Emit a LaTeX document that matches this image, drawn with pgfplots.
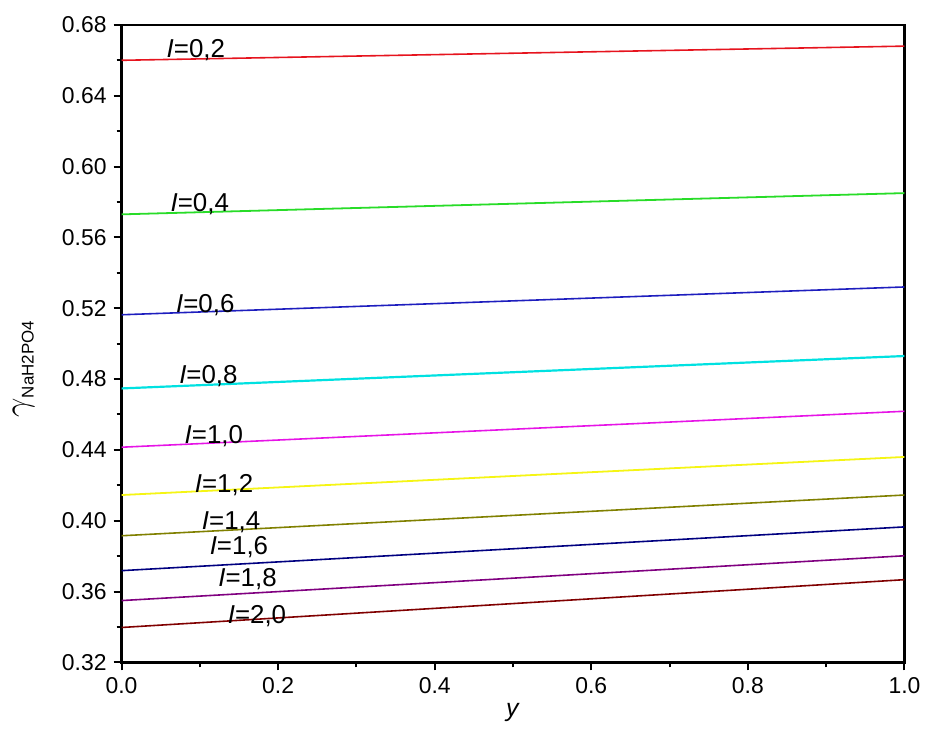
\documentclass[border=0pt]{standalone}
\usepackage{fontspec}
\setmainfont{Liberation Sans}
\usepackage{pgfplots}
\pgfplotsset{compat=1.18}
\definecolor{cRed}{RGB}{230,20,30}
\definecolor{cGreen}{RGB}{40,220,40}
\definecolor{cBlue}{RGB}{30,30,190}
\definecolor{cCyan}{RGB}{0,225,225}
\definecolor{cMag}{RGB}{230,20,230}
\definecolor{cYel}{RGB}{245,245,20}
\definecolor{cOlive}{RGB}{128,128,0}
\definecolor{cNavy}{RGB}{0,0,128}
\definecolor{cPurp}{RGB}{128,0,128}
\definecolor{cWine}{RGB}{128,0,0}
\begin{document}
\begin{tikzpicture}
\begin{axis}[
  scale only axis,
  width=393pt, height=320pt,
  xmin=0, xmax=1, ymin=0.32, ymax=0.68,
  xtick={0,0.2,0.4,0.6,0.8,1.0},
  ytick={0.32,0.36,0.40,0.44,0.48,0.52,0.56,0.60,0.64,0.68},
  minor x tick num=1, minor y tick num=1,
  xtick pos=bottom, ytick pos=left,
  tick align=outside,
  major tick length=4pt, minor tick length=2.5pt,
  every tick/.style={black, line width=1pt},
  axis line style={line width=1.3pt},
  /pgf/number format/assume math mode=true,
  xticklabel style={/pgf/number format/.cd, fixed, fixed zerofill, precision=1},
  yticklabel style={/pgf/number format/.cd, fixed, fixed zerofill, precision=2},
  ticklabel style={font=\fontsize{11.5}{13}\selectfont},
  xlabel={\textit{y}},
  xlabel style={font=\fontsize{12.5}{14}\selectfont, yshift=2pt},
  ylabel={{\fontsize{16}{16}\selectfont$\gamma$}\raisebox{-3pt}{\fontsize{8.5}{10}\selectfont NaH2PO4}},
  ylabel style={font=\fontsize{12}{14}\selectfont, at={(axis description cs:-0.125,0.46)}, anchor=center},
]
\addplot[cRed, line width=0.8pt] coordinates {(0,0.660) (1,0.668)};
\addplot[cGreen, line width=0.9pt] coordinates {(0,0.573) (1,0.585)};
\addplot[cBlue, line width=0.8pt] coordinates {(0,0.5163) (1,0.532)};
\addplot[cCyan, line width=1.1pt] coordinates {(0,0.4747) (1,0.493)};
\addplot[cMag, line width=0.8pt] coordinates {(0,0.4415) (1,0.4618)};
\addplot[cYel, line width=0.9pt] coordinates {(0,0.4145) (1,0.436)};
\addplot[cOlive, line width=0.8pt] coordinates {(0,0.3915) (1,0.4145)};
\addplot[cNavy, line width=0.8pt] coordinates {(0,0.3718) (1,0.3965)};
\addplot[cPurp, line width=0.8pt] coordinates {(0,0.3549) (1,0.3802)};
\addplot[cWine, line width=0.8pt] coordinates {(0,0.3397) (1,0.3667)};
\begin{scope}[every node/.style={font=\fontsize{13}{15}\selectfont, inner sep=0pt}]
\node at (axis cs:0.095,0.6655) {\textit{I}=0,2};
\node at (axis cs:0.100,0.5790) {\textit{I}=0,4};
\node at (axis cs:0.107,0.5215) {\textit{I}=0,6};
\node at (axis cs:0.111,0.4815) {\textit{I}=0,8};
\node at (axis cs:0.118,0.4480) {\textit{I}=1,0};
\node at (axis cs:0.131,0.4200) {\textit{I}=1,2};
\node at (axis cs:0.140,0.3990) {\textit{I}=1,4};
\node at (axis cs:0.150,0.3850) {\textit{I}=1,6};
\node at (axis cs:0.161,0.3670) {\textit{I}=1,8};
\node at (axis cs:0.173,0.3460) {\textit{I}=2,0};
\end{scope}
\end{axis}
\path ([shift={(-61pt,-32pt)}]current axis.south west) rectangle ([shift={(9.5pt,12.5pt)}]current axis.north east);
\end{tikzpicture}
\end{document}
